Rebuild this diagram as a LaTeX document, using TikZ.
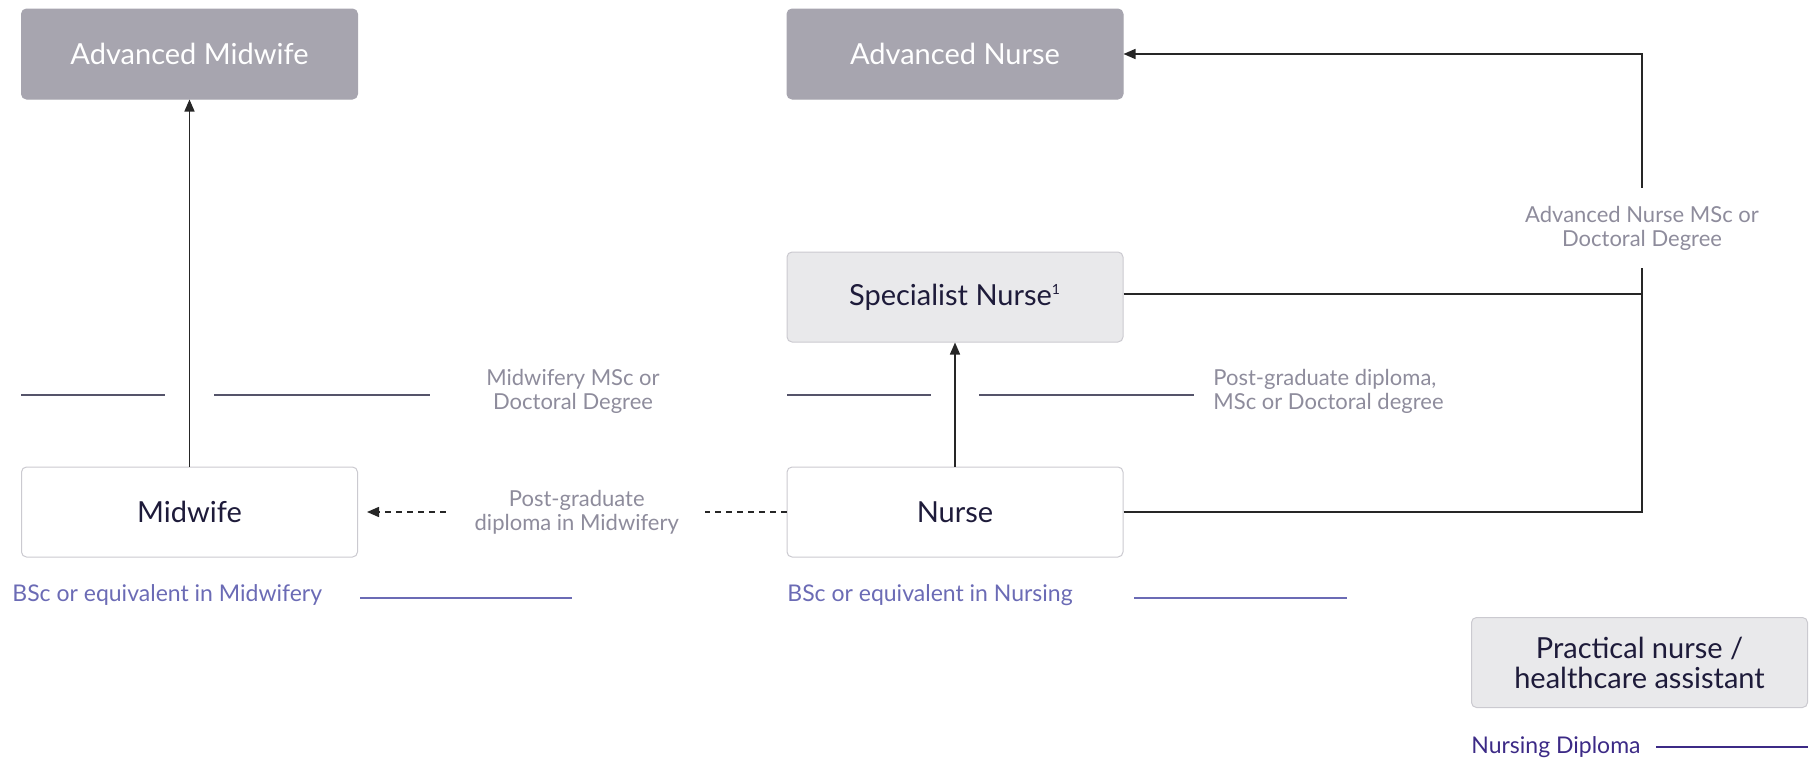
\documentclass[tikz,border=0pt]{standalone}
\usepackage{fontspec}
\setmainfont{Lato}
\usetikzlibrary{arrows.meta}
\definecolor{ink}{HTML}{1E1B3A}
\definecolor{darkbox}{HTML}{A7A5AF}
\definecolor{lightbox}{HTML}{E9E9EB}
\definecolor{boxline}{HTML}{CBCAD0}
\definecolor{notegray}{HTML}{8E8C9C}
\definecolor{levelgray}{HTML}{55546A}
\definecolor{bsc}{HTML}{6B6BB5}
\definecolor{dipl}{HTML}{3C2A86}
\begin{document}
\begin{tikzpicture}[x=0.5pt,y=-0.5pt]
        \tikzstyle{role}=[rectangle,rounded corners=2.5pt,draw=boxline,line width=0.5pt,fill=white,minimum width=168pt,minimum height=45pt,inner sep=0pt,text=ink,font=\fontsize{14.5}{15}\selectfont,align=center]
        \tikzstyle{senior}=[role,fill=darkbox,draw=darkbox,text=white]
        \tikzstyle{mid}=[role,fill=lightbox]
        \tikzstyle{note}=[text=notegray,font=\fontsize{11}{12}\selectfont,align=center,inner sep=0pt]
        \tikzstyle{qual}=[anchor=west,inner sep=0pt,font=\fontsize{11.5}{13}\selectfont]
        \tikzstyle{link}=[draw=black!85,line width=0.75pt]
        \tikzstyle{level}=[draw=levelgray,line width=1pt]
        \tikzstyle{tip}=[-{Triangle[length=6pt,width=5pt]}]
        \useasboundingbox (0,0) rectangle (1811,760);
        % roles
        \node [senior] (advmid) at (189.5,54) {Advanced Midwife};
        \node [senior] (advnur) at (955,54) {Advanced Nurse};
        \node [mid] (spec) at (955,297) {Specialist Nurse\textsuperscript{\fontsize{7}{7}\selectfont 1}};
        \node [role] (midwife) at (189.5,512) {Midwife};
        \node [role] (nurse) at (955,512) {Nurse};
        \node [mid] (practical) at (1639.5,662.5) {Practical nurse /\\healthcare assistant};
        % levels
        \path[level] (21,395) -- (165,395);
        \path[level] (214,395) -- (430,395);
        \path[level] (787,395) -- (931,395);
        \path[level] (979,395) -- (1194,395);
        \node [note] (mscmid) at (573,391) {Midwifery MSc or\\Doctoral Degree};
        \node [note,align=left,anchor=west] (pgnur) at (1213,391) {Post-graduate diploma,\\MSc or Doctoral degree};
        % progressions
        \coordinate (cr1) at (1642,512);
        \coordinate (cr2) at (1642,54);
        \path[link,tip] (midwife) -- (advmid);
        \path[link,tip] (nurse) -- (spec);
        \path[link,tip] (nurse.east) -- (cr1) -- node[note,pos=0.62,fill=white,inner xsep=6pt,inner ysep=9pt] (advmsc) {Advanced Nurse MSc or\\Doctoral Degree} (cr2) -- (advnur.east);
        \path[link] ([yshift=1.5pt]spec.east) -- ([yshift=1.5pt]spec.east -| cr1);
        \path[link,tip,dash pattern=on 3pt off 2.5pt] (nurse.west) -- node[note,fill=white,inner xsep=13pt,inner ysep=4pt] (pgmid) {Post-graduate\\diploma in Midwifery} ([xshift=4.5pt]midwife.east);
        % qualifications
        \node [qual,text=bsc] (bscmid) at (12,595) {BSc or equivalent in Midwifery};
        \path[draw=bsc,line width=0.75pt] (360,598) -- (572,598);
        \node [qual,text=bsc] (bscnur) at (787,595) {BSc or equivalent in Nursing};
        \path[draw=bsc,line width=0.75pt] (1134,598) -- (1347,598);
        \node [qual,text=dipl] (diploma) at (1471,747) {Nursing Diploma};
        \path[draw=dipl,line width=0.75pt] (1656,747) -- (1808,747);
\end{tikzpicture}
\end{document}
